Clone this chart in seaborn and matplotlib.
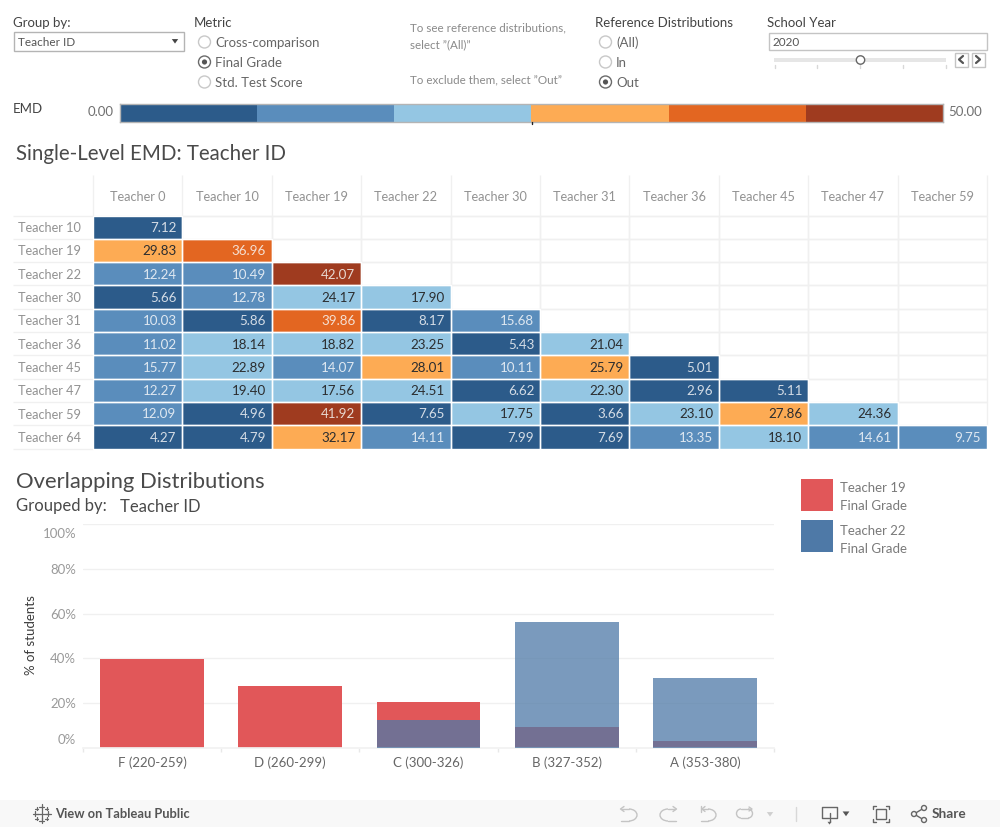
import numpy as np
import pandas as pd
import matplotlib
matplotlib.use("Agg")
import matplotlib.pyplot as plt
import seaborn as sns
from matplotlib.colors import ListedColormap, BoundaryNorm
from matplotlib.patches import Rectangle, Circle, Arc, Polygon
from matplotlib.transforms import ScaledTranslation

# ---------- data ----------
col_teachers = ["Teacher 0", "Teacher 10", "Teacher 19", "Teacher 22", "Teacher 30",
                "Teacher 31", "Teacher 36", "Teacher 45", "Teacher 47", "Teacher 59"]
row_teachers = ["Teacher 10", "Teacher 19", "Teacher 22", "Teacher 30", "Teacher 31",
                "Teacher 36", "Teacher 45", "Teacher 47", "Teacher 59", "Teacher 64"]
t10 = [7.12]
t19 = [29.83, 36.96]
t22 = [12.24, 10.49, 42.07]
t30 = [5.66, 12.78, 24.17, 17.90]
t31 = [10.03, 5.86, 39.86, 8.17, 15.68]
t36 = [11.02, 18.14, 18.82, 23.25, 5.43, 21.04]
t45 = [15.77, 22.89, 14.07, 28.01, 10.11, 25.79, 5.01]
t47 = [12.27, 19.40, 17.56, 24.51, 6.62, 22.30, 2.96, 5.11]
t59 = [12.09, 4.96, 41.92, 7.65, 17.75, 3.66, 23.10, 27.86, 24.36]
t64 = [4.27, 4.79, 32.17, 14.11, 7.99, 7.69, 13.35, 18.10, 14.61, 9.75]
emd_rows = [t10, t19, t22, t30, t31, t36, t45, t47, t59, t64]

grades = ["F (220-259)", "D (260-299)", "C (300-326)", "B (327-352)", "A (353-380)"]
teacher19_pct = [39.7, 27.7, 20.5, 9.4, 3.1]
teacher22_pct = [0, 0, 12.5, 56.3, 31.2]
pct_ticks = [0, 20, 40, 60, 80, 100]

emd_limits = [0, 50]
emd_colors = ["#2c5b8a", "#5a8dbc", "#94c6e3", "#fdab54", "#e36621", "#9f3b1f"]
emd_text_colors = ["#d5dde6", "#dfe8f1", "#2b2d2f", "#2b2d2f", "#f4e0d4", "#e8d8d0"]
RED = "#e15759"
BLUE = "#4e79a7"

# ---------- set-up ----------
W, H = 1000, 827
sns.set_theme(style="white")
FONT = "Lato"
plt.rcParams["font.family"] = [FONT, "DejaVu Sans"]
fig = plt.figure(figsize=(W / 100, H / 100), dpi=100, facecolor="white")


def axes_px(x0, y0, x1, y1, **kw):
    return fig.add_axes([x0 / W, 1 - y1 / H, (x1 - x0) / W, (y1 - y0) / H], **kw)


GRID = "#f0f0f0"
LABEL = "#929292"
DARK = "#4a4a4a"

# ---------- heatmap ----------
matrix = pd.DataFrame(
    [r + [np.nan] * (len(col_teachers) - len(r)) for r in emd_rows],
    index=row_teachers, columns=col_teachers)
bounds = np.linspace(emd_limits[0], emd_limits[1], len(emd_colors) + 1)
cmap = ListedColormap(emd_colors)
norm = BoundaryNorm(bounds, cmap.N)

hm = axes_px(93, 215.5, 987, 448.5)
sns.heatmap(matrix, ax=hm, cmap=cmap, norm=norm, cbar=False, annot=True, fmt=".2f",
            linewidths=0, annot_kws={"fontsize": 9.6, "family": [FONT]})
cells = matrix.to_numpy().ravel()
cells = cells[~np.isnan(cells)]
for t, v in zip(hm.texts, cells):
    px, py = t.get_position()
    t.set_ha("right")
    t.set_x(px + 0.5 - 0.065)
    t.set_y(py + 0.04)
    t.set_color(emd_text_colors[int(np.digitize(v, bounds)) - 1])
    t.set_zorder(5)

hm.xaxis.tick_top()
hm.set_xlabel("")
hm.set_ylabel("")
hm.tick_params(axis="x", length=0, pad=9, labelsize=9.2, labelcolor=LABEL, rotation=0)
hm.tick_params(axis="y", length=0, pad=54, labelsize=9.2, labelcolor=LABEL, rotation=0)
for lab in hm.get_yticklabels():
    lab.set_ha("left")
    lab.set_transform(lab.get_transform() + ScaledTranslation(0, -1 / 100, fig.dpi_scale_trans))
row_h = (448.5 - 215.5) / len(row_teachers)
col_w = (987 - 93) / len(col_teachers)
hm.hlines(range(len(row_teachers) + 1), -80 / col_w, 0, color=GRID, lw=1, clip_on=False, zorder=0)
hm.hlines(0, 0, len(col_teachers), color=GRID, lw=1, clip_on=False, zorder=0)
hm.vlines(range(len(col_teachers) + 1), -41 / row_h, 0, color=GRID, lw=1, clip_on=False, zorder=0)
values = matrix.to_numpy()
for r, c in zip(*np.where(np.isnan(values))):
    hm.add_patch(Rectangle((c, r), 1, 1, fc="none", ec=GRID, lw=1, zorder=2, clip_on=False))
for r, c in zip(*np.where(~np.isnan(values))):
    hm.add_patch(Rectangle((c, r), 1, 1, fc="none", ec="white", lw=1, zorder=3, clip_on=False))
for s in hm.spines.values():
    s.set_visible(False)

# ---------- colour legend ----------
lg = axes_px(119.5, 103.5, 943, 121.5)
lg.pcolormesh(bounds, [0, 1], np.array([bounds[:-1] + 1]), cmap=cmap, norm=norm)
lg.set_xlim(*emd_limits)
lg.set_xticks([])
lg.set_yticks([])
for s in lg.spines.values():
    s.set_color("#b4b4b4")
    s.set_linewidth(1)

# ---------- bars ----------
bar = axes_px(83, 524, 774, 748)
df19 = pd.DataFrame({"grade": grades, "pct": teacher19_pct})
df22 = pd.DataFrame({"grade": grades, "pct": teacher22_pct})
sns.barplot(df19, x="grade", y="pct", color=RED, saturation=1, width=0.752, linewidth=0, ax=bar, zorder=2)
sns.barplot(df22, x="grade", y="pct", color=BLUE, saturation=1, width=0.752, linewidth=0, alpha=0.75, ax=bar, zorder=3)
bar.set_xlim(-0.5, len(grades) - 0.5)
bar.set_ylim(0, 100)
bar.set_yticks(pct_ticks)
bar.set_yticklabels([f"{p}%" for p in pct_ticks])
bar.yaxis.grid(True, color=GRID, lw=1)
bar.set_axisbelow(True)
bar.set_xlabel("")
bar.set_ylabel("% of students", fontsize=9.5, color="#3c3c3c", labelpad=0)
bar.yaxis.set_label_coords(-46 / 691, 0.505)
bar.set_xticks(np.arange(-0.5, len(grades)), minor=True)
bar.tick_params(axis="x", which="major", length=0, pad=6, labelsize=9.5, labelcolor="#666666")
bar.tick_params(axis="x", which="minor", length=3, width=1, color="#e8e8e8", bottom=True)
bar.tick_params(axis="y", length=0, pad=5, labelsize=9.5, labelcolor="#9a9a9a")
labs = bar.get_yticklabels()
labs[0].set_transform(labs[0].get_transform() + ScaledTranslation(0, 9 / 100, fig.dpi_scale_trans))
labs[-1].set_transform(labs[-1].get_transform() + ScaledTranslation(0, -9 / 100, fig.dpi_scale_trans))
for k, s in bar.spines.items():
    s.set_visible(k == "bottom")
bar.spines["bottom"].set_color("#f2f2f2")

# ---------- overlay in pixel coordinates (dashboard chrome) ----------
ov = fig.add_axes([0, 0, 1, 1], zorder=10)
ov.set_xlim(0, W)
ov.set_ylim(H, 0)
ov.axis("off")
ov.patch.set_alpha(0)


def txt(x, y, s, size=9.5, color=DARK, ha="left", **kw):
    ov.text(x, y + 1, s, fontsize=size, color=color, ha=ha, va="center", **kw)


def box(x0, y0, x1, y1, ec="#c4c4c4", fc="white", lw=1, **kw):
    ov.add_patch(Rectangle((x0, y0), x1 - x0, y1 - y0, ec=ec, fc=fc, lw=lw, **kw))


def tri(x, y, s=3.5, color="#444444"):
    ov.add_patch(Polygon([(x - s, y - s * 0.6), (x + s, y - s * 0.6), (x, y + s * 0.8)], fc=color, ec="none"))


def radio(x, y, label, on=False):
    ov.add_patch(Circle((x, y), 6, fc="white", ec="#6a6a6a" if on else "#c8c8c8", lw=1))
    if on:
        ov.add_patch(Circle((x, y), 2.6, fc="#555555", ec="none"))
    txt(x + 10.5, y, label, color="#666666")


# filters
txt(13, 22, "Group by:", color="#444444")
box(13.5, 32, 184, 50.5, ec="#b4b4b4")
txt(17.5, 41, "Teacher ID", size=8.5, color="#555555")
tri(175, 41, 3.2)

txt(194, 22, "Metric", color="#444444")
radio(204.5, 42, "Cross-comparison")
radio(204.5, 62, "Final Grade", on=True)
radio(204.5, 82, "Std. Test Score")

txt(410, 27, "To see reference distributions,", size=8.4, color="#8a8a8a")
txt(410, 44, "select \u201d(All)\u201d", size=8.4, color="#8a8a8a")
txt(410, 79, "To exclude them, select \u201dOut\u201d", size=8.4, color="#8a8a8a")

txt(595, 22, "Reference Distributions", color="#444444")
radio(605.5, 42, "(All)")
radio(605.5, 62, "In")
radio(605.5, 82, "Out", on=True)

txt(767, 22, "School Year", color="#444444")
box(768.5, 32.5, 986.5, 49.5)
txt(772.5, 41, "2020", size=8.5, color="#555555")
ov.add_patch(Rectangle((774, 58), 172, 4, fc="#e6e6e6", ec="none"))
for x in np.linspace(774.5, 946, 5):
    ov.plot([x, x], [65, 68], color="#d8d8d8", lw=1)
ov.add_patch(Circle((860.5, 60), 4.2, fc="white", ec="#666666", lw=1, zorder=5))
box(954.5, 52.5, 968, 66.5)
box(971.5, 52.5, 984.5, 66.5)
ov.plot([963, 959, 963], [56, 59.5, 63], color="#555555", lw=1.6)
ov.plot([976, 980, 976], [56, 59.5, 63], color="#555555", lw=1.6)

# colour legend text
txt(13, 108, "EMD", color="#444444")
txt(113.5, 111.5, "0.00", ha="right", color="#707070")
txt(948, 111.5, "50.00", color="#707070")
ov.plot([532.2, 532.2], [122, 124], color="#222222", lw=1)

# titles
txt(16, 153, "Single-Level EMD: Teacher ID", size=14.8, color="#4a4a4a")
txt(16, 481.5, "Overlapping Distributions", size=15.8, color="#4a4a4a")
txt(16, 505.5, "Grouped by:", size=12, color="#4a4a4a")
txt(120, 505.5, "Teacher ID", size=12, color="#4a4a4a")

# bar legend
for y0, y1, y2, color, who in [(479, 487, 505, RED, "Teacher 19"), (520, 530, 548, BLUE, "Teacher 22")]:
    ov.add_patch(Rectangle((801, y0), 32, 32, fc=color, ec="none"))
    txt(840, y1, who, color="#7a7a7a")
    txt(840, y2, "Final Grade", color="#7a7a7a")

# footer
ov.add_patch(Rectangle((0, 800), W, 27, fc="#f8f8f8", ec="none"))
txt(55, 813, "View on Tableau Public", size=9.3, color="#555555", fontweight="bold")
for dx, dy, s in [(0, 0, 5), (-6.5, 0, 2.5), (6.5, 0, 2.5), (0, -7, 2.5), (0, 7, 2.5),
                  (-5, -5, 1.5), (5, -5, 1.5), (-5, 5, 1.5), (5, 5, 1.5)]:
    cx, cy = 41.5 + dx, 813.5 + dy
    ov.plot([cx - s, cx + s], [cy, cy], color="#666666", lw=0.9)
    ov.plot([cx, cx], [cy - s, cy + s], color="#666666", lw=0.9)

FAINT = "#c4c4c4"
y = 815
# undo
ov.add_patch(Arc((629, y), 16, 12, theta1=-90, theta2=90, ec=FAINT, lw=1))
ov.plot([622, 629], [809, 809], color=FAINT, lw=1)
ov.plot([629, 621], [821, 821], color=FAINT, lw=1)
ov.plot([624, 620.5, 624], [806.5, 809, 811.5], color=FAINT, lw=1)
# redo
ov.add_patch(Arc((668, y), 16, 12, theta1=90, theta2=270, ec=FAINT, lw=1))
ov.plot([668, 675], [809, 809], color=FAINT, lw=1)
ov.plot([668, 676], [821, 821], color=FAINT, lw=1)
ov.plot([673, 676.5, 673], [806.5, 809, 811.5], color=FAINT, lw=1)
# revert
ov.add_patch(Arc((708, y), 16, 12, theta1=-90, theta2=90, ec=FAINT, lw=1))
ov.plot([703, 708], [809, 809], color=FAINT, lw=1)
ov.plot([708, 701], [821, 821], color=FAINT, lw=1)
ov.plot([700.5, 700.5], [806, 812], color=FAINT, lw=1)
ov.plot([705, 702, 705], [806.5, 809, 811.5], color=FAINT, lw=1)
# refresh
ov.add_patch(Arc((741, 813.5), 9, 9, theta1=90, theta2=270, ec=FAINT, lw=1))
ov.add_patch(Arc((748, 813.5), 9, 9, theta1=-90, theta2=90, ec=FAINT, lw=1))
ov.plot([741, 748], [818, 818], color=FAINT, lw=1)
ov.plot([741, 750], [809, 809], color=FAINT, lw=1)
ov.plot([749, 752, 749], [807, 809, 811], color=FAINT, lw=1)
tri(770, 814, 3.2, color="#cfcfcf")
ov.plot([796, 796], [807, 821], color="#d8d8d8", lw=1)
# download
ov.plot([829, 822, 822, 837, 837, 831], [818, 818, 807, 807, 818, 818], color="#666666", lw=1)
ov.plot([829.5, 829.5], [813, 822], color="#666666", lw=1)
tri(829.5, 823, 2.0, color="#666666")
tri(846, 813.5, 3.4, color="#555555")
# fullscreen
box(876, 809, 886, 819, ec="#666666", fc="none")
for x0, sx in [(873, 1), (889, -1)]:
    for y0, sy in [(806, 1), (822, -1)]:
        ov.plot([x0 + 3 * sx, x0, x0], [y0, y0, y0 + 3 * sy], color="#666666", lw=1)
# share
pts = [(914, 814), (924, 808), (924, 820)]
ov.plot([pts[1][0], pts[0][0], pts[2][0]], [pts[1][1], pts[0][1], pts[2][1]], color="#666666", lw=1)
for p in pts:
    ov.add_patch(Circle(p, 2.5, fc="#f8f8f8", ec="#666666", lw=1, zorder=5))
txt(932, 813, "Share", size=9.8, color="#555555", fontweight="bold")

fig.savefig("out.png", dpi=100, facecolor="white")
